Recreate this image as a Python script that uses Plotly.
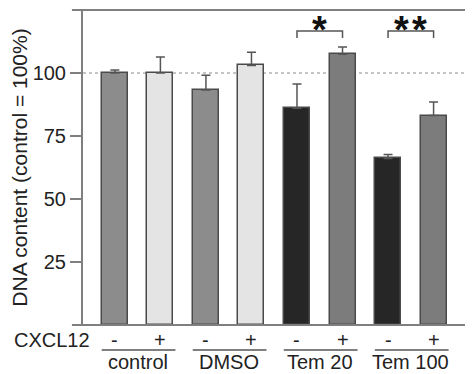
import plotly.graph_objects as go

# Data
conditions = ["control", "control", "DMSO", "DMSO", "Tem 20", "Tem 20", "Tem 100", "Tem 100"]
cxcl12 = ["-", "+", "-", "+", "-", "+", "-", "+"]
values = [100.0, 100.0, 93.3, 103.0, 86.0, 107.4, 66.1, 83.1]
errors = [1.2, 6.3, 5.8, 5.2, 9.6, 2.9, 1.6, 5.4]
bar_colors = ["#8c8c8c", "#e4e4e4", "#8c8c8c", "#e4e4e4", "#262626", "#7c7c7c", "#262626", "#7c7c7c"]
groups = ["control", "DMSO", "Tem 20", "Tem 100"]
y_ticks = [25, 50, 75, 100]
significance = [(4, 5, "*"), (6, 7, "*\u200a*")]

FONT = "Liberation Sans, Arial, sans-serif"
AXIS_COLOR = "#7f7f7f"
TXT = "#222222"
BW = 0.57

xs = list(range(len(values)))

fig = go.Figure()
fig.add_trace(go.Bar(
    x=xs, y=values, width=BW,
    marker=dict(color=bar_colors, line=dict(color="#4a4a4a", width=1.5)),
    error_y=dict(type="data", array=errors, arrayminus=[0] * len(errors), symmetric=False,
                 color="#555555", thickness=1.5, width=4.5),
    showlegend=False, hoverinfo="y",
))

shapes = []
annotations = []

# reference line at 100
shapes.append(dict(type="line", xref="paper", yref="y", x0=0, x1=1, y0=100, y1=100,
                   line=dict(color="#8a8a8a", width=1, dash="dot"), layer="below"))
# top and bottom frame lines extending beyond axes
for yv in (0, 1):
    shapes.append(dict(type="line", xref="paper", yref="paper", x0=-0.029, x1=1.03, y0=yv, y1=yv,
                       line=dict(color=AXIS_COLOR, width=2)))

# CXCL12 label and +/- signs
annotations.append(dict(text="CXCL12", xref="paper", yref="paper", x=0.024, y=0, yshift=-15,
                        xanchor="right", yanchor="middle", showarrow=False,
                        font=dict(size=20, color=TXT, family=FONT)))
for i, s in enumerate(cxcl12):
    annotations.append(dict(text=s, xref="x", yref="paper", x=i, y=0, yshift=-15,
                            xanchor="center", yanchor="middle", showarrow=False,
                            font=dict(size=20, color=TXT, family=FONT)))

# group underlines and labels
for g, name in enumerate(groups):
    a, b = 2 * g, 2 * g + 1
    shapes.append(dict(type="line", xref="x", yref="paper", x0=a - 0.29, x1=b + 0.33,
                       y0=-0.079, y1=-0.079, line=dict(color="#555555", width=1.5)))
    annotations.append(dict(text=name, xref="x", yref="paper", x=(a + b) / 2, y=0, yshift=-37,
                            xanchor="center", yanchor="middle", showarrow=False,
                            font=dict(size=20, color=TXT, family=FONT)))

# significance brackets
for a, b, star in significance:
    shapes.append(dict(type="path", xref="x", yref="y",
                       path=f"M {a},113.9 L {a},116.7 L {b},116.7 L {b},113.9",
                       line=dict(color="#555555", width=1.5)))
    annotations.append(dict(text=f"<b>{star}</b>", xref="x", yref="y", x=(a + b) / 2, y=116.7,
                            xanchor="center", yanchor="bottom", showarrow=False, yshift=-22,
                            font=dict(size=38, color="#111111", family=FONT)))

# the page places the figure 8 px in from the top-left corner
fig.update_layout(
    width=465, height=366,
    margin=dict(l=75, r=8, t=2, b=49, autoexpand=False),
    paper_bgcolor="white", plot_bgcolor="white",
    shapes=shapes, annotations=annotations,
    font=dict(family=FONT, color=TXT),
    xaxis=dict(range=[-0.70, 7.69], showticklabels=False, showgrid=False, zeroline=False,
               showline=False, ticks="", automargin=False),
    yaxis=dict(range=[0, 125], tickvals=y_ticks, ticks="outside", ticklen=11, tickwidth=1.5,
               tickcolor=AXIS_COLOR, showline=True, linecolor=AXIS_COLOR, linewidth=2,
               mirror="ticks", showgrid=False, zeroline=False, automargin=False,
               tickfont=dict(size=20, color=TXT, family=FONT),
               title=dict(text="DNA content (control = 100%)", font=dict(size=21, color=TXT, family=FONT),
                          standoff=6)),
    bargap=0,
)

fig.write_html("out.html")
